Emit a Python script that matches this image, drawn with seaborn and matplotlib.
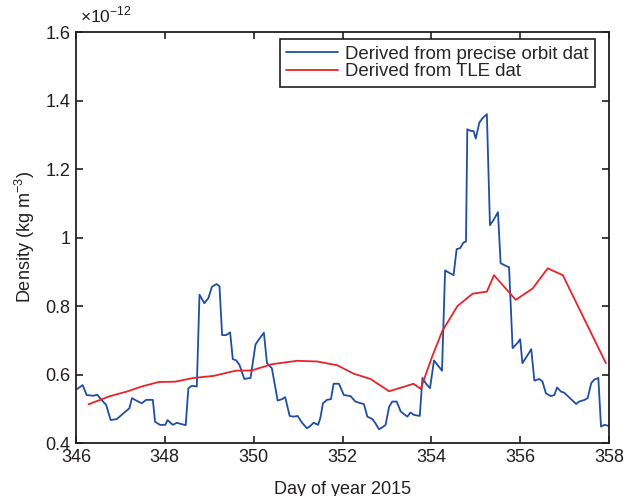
import matplotlib
matplotlib.use("Agg")
import matplotlib.pyplot as plt
import seaborn as sns
import pandas as pd

sns.set_style("ticks")
plt.rcParams['font.family'] = ['Liberation Sans', 'DejaVu Sans']
plt.rcParams['mathtext.fontset'] = 'custom'
plt.rcParams['mathtext.rm'] = 'Liberation Sans'

precise_day = [346.03, 346.15, 346.24, 346.39, 346.48, 346.54, 346.68, 346.78, 346.92, 347.07,
               347.20, 347.26, 347.37, 347.48, 347.58, 347.73, 347.78, 347.89, 348.01, 348.06,
               348.18, 348.27, 348.35, 348.47, 348.53, 348.61, 348.72, 348.78, 348.89, 348.98,
               349.06, 349.16, 349.23, 349.29, 349.38, 349.47, 349.53, 349.61, 349.68, 349.79,
               349.93, 350.04, 350.11, 350.23, 350.30, 350.41, 350.54, 350.64, 350.71, 350.81,
               350.90, 350.99, 351.09, 351.20, 351.26, 351.35, 351.45, 351.50, 351.56, 351.65,
               351.74, 351.80, 351.92, 352.03, 352.18, 352.29, 352.41, 352.48, 352.56, 352.67,
               352.74, 352.82, 352.90, 352.97, 353.05, 353.12, 353.22, 353.31, 353.38, 353.46,
               353.53, 353.61, 353.74, 353.80, 353.87, 353.97, 354.06, 354.17, 354.24, 354.31,
               354.40, 354.50, 354.57, 354.65, 354.72, 354.78, 354.81, 354.89, 354.95, 355.00,
               355.08, 355.15, 355.25, 355.32, 355.40, 355.50, 355.56, 355.68, 355.75, 355.83,
               355.94, 356.00, 356.05, 356.17, 356.25, 356.32, 356.43, 356.50, 356.58, 356.69,
               356.77, 356.83, 356.92, 356.99, 357.08, 357.18, 357.26, 357.33, 357.45, 357.52,
               357.60, 357.67, 357.76, 357.82, 357.90, 357.99]
precise_density = [0.558, 0.569, 0.540, 0.538, 0.541, 0.531, 0.511, 0.467, 0.470, 0.487,
                   0.501, 0.531, 0.523, 0.516, 0.526, 0.526, 0.462, 0.453, 0.453, 0.467,
                   0.453, 0.459, 0.456, 0.452, 0.560, 0.567, 0.565, 0.833, 0.808, 0.823,
                   0.856, 0.864, 0.858, 0.715, 0.715, 0.723, 0.645, 0.641, 0.628, 0.587,
                   0.590, 0.687, 0.701, 0.722, 0.633, 0.618, 0.524, 0.528, 0.534, 0.479,
                   0.477, 0.479, 0.459, 0.443, 0.448, 0.459, 0.453, 0.472, 0.516, 0.526,
                   0.528, 0.573, 0.573, 0.540, 0.537, 0.521, 0.516, 0.514, 0.477, 0.470,
                   0.458, 0.440, 0.446, 0.453, 0.506, 0.521, 0.521, 0.492, 0.485, 0.477,
                   0.489, 0.482, 0.479, 0.590, 0.575, 0.560, 0.641, 0.623, 0.611, 0.904,
                   0.897, 0.890, 0.966, 0.969, 0.985, 0.988, 1.316, 1.311, 1.311, 1.289,
                   1.335, 1.348, 1.360, 1.036, 1.051, 1.074, 0.925, 0.917, 0.913, 0.677,
                   0.692, 0.703, 0.633, 0.657, 0.674, 0.582, 0.587, 0.580, 0.545, 0.537,
                   0.540, 0.562, 0.550, 0.547, 0.536, 0.524, 0.514, 0.521, 0.526, 0.531,
                   0.575, 0.585, 0.590, 0.448, 0.453, 0.450]

tle_day = [346.28, 346.77, 347.14, 347.48, 347.86, 348.23, 348.65, 349.10, 349.59, 349.96,
           350.41, 350.98, 351.43, 351.88, 352.26, 352.63, 353.05, 353.60, 353.76, 354.02,
           354.25, 354.59, 354.93, 355.25, 355.41, 355.90, 356.28, 356.62, 356.96, 357.93]
tle_density = [0.513, 0.537, 0.550, 0.565, 0.578, 0.579, 0.590, 0.596, 0.611, 0.612,
               0.630, 0.640, 0.638, 0.627, 0.602, 0.587, 0.551, 0.573, 0.558, 0.653,
               0.728, 0.800, 0.836, 0.842, 0.890, 0.818, 0.851, 0.910, 0.890, 0.633]

x_ticks = [346, 348, 350, 352, 354, 356, 358]
y_ticks = [0.4, 0.6, 0.8, 1.0, 1.2, 1.4, 1.6]
y_tick_labels = ['0.4', '0.6', '0.8', '1', '1.2', '1.4', '1.6']

df_p = pd.DataFrame({'day': precise_day, 'density': precise_density})
df_t = pd.DataFrame({'day': tle_day, 'density': tle_density})

fig = plt.figure(figsize=(6.28, 4.96), dpi=100)
ax = fig.add_axes([76/628, 53/496, 533/628, 411/496])

sns.lineplot(data=df_p, x='day', y='density', ax=ax, color='#1f4ea3', linewidth=1.3,
             estimator=None, label='Derived from precise orbit dat')
sns.lineplot(data=df_t, x='day', y='density', ax=ax, color='#e8232b', linewidth=1.3,
             estimator=None, label='Derived from TLE dat')

ax.set_xlim(346, 358)
ax.set_ylim(0.4, 1.6)
ax.set_xticks(x_ticks)
ax.set_xticklabels([str(t) for t in x_ticks])
ax.set_yticks(y_ticks)
ax.set_yticklabels(y_tick_labels)
ax.tick_params(direction='in', length=5, width=1.2, top=True, right=True,
               labelsize=13, colors='#231f20', pad=4)
for s in ax.spines.values():
    s.set_linewidth(1.3)
    s.set_color('#231f20')
    s.set_visible(True)

ax.set_xlabel('Day of year 2015', fontsize=13, color='#231f20', labelpad=11)
ax.set_ylabel('Density (kg m$^{-3}$)', fontsize=13, color='#231f20', labelpad=6)
ax.text(0.0075, 1.024, '×10$^{-12}$', transform=ax.transAxes, fontsize=12.5,
        ha='left', va='baseline', color='#231f20')

leg = ax.legend(loc='upper right', bbox_to_anchor=(0.9737, 0.983), fontsize=13.4,
                frameon=True, fancybox=False, edgecolor='#231f20', framealpha=1,
                handlelength=2.8, handletextpad=0.35, borderpad=0.35, labelspacing=0.03,
                borderaxespad=0)
leg.get_frame().set_linewidth(1.2)

fig.savefig('out.png', dpi=100)
